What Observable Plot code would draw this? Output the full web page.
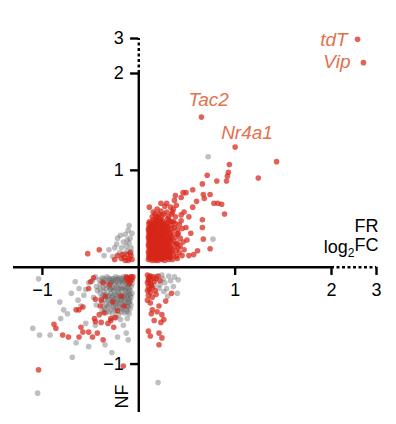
<!DOCTYPE html>
<html><head><meta charset="utf-8">
<script src="https://cdn.jsdelivr.net/npm/d3@7"></script>
<script src="https://cdn.jsdelivr.net/npm/@observablehq/plot@0.6"></script>
<style>body{margin:0;background:#fff}</style>
</head><body><div id="chart"></div>
<script>
// Broken axes: linear up to 2, compressed 2→3
const xDomain = [-1.3, 2, 3];
const yDomain = [-1.5, 2, 3];
const xTicks = [-1, 1, 2, 3];
const yTicks = [-1, 1, 2, 3];
const xTickLabels = ["\u22121", "1", "2", "3"];
const yTickLabels = ["\u22121", "1", "2", "3"];

// non-significant genes (grey) [FR log2FC, NF log2FC]
const greyPoints = [
  // upper-left
  [-0.10,0.43],[-0.11,0.38],[-0.19,0.33],[-0.22,0.30],[-0.16,0.26],[-0.36,0.12],[-0.31,0.18],[-0.13,0.22],
  [-0.09,0.30],[-0.25,0.20],[-0.20,0.15],[-0.12,0.17],[-0.27,0.11],[-0.08,0.20],[-0.14,0.34],[-0.23,0.24],
  [-0.10,0.25],[-0.07,0.35],[-0.12,0.28],[-0.18,0.20],[-0.08,0.16],[-0.15,0.14],
  // lower-left dense block
  [-0.08,-0.10],[-0.12,-0.11],[-0.16,-0.10],[-0.20,-0.11],[-0.24,-0.10],[-0.28,-0.12],[-0.33,-0.10],[-0.38,-0.11],[-0.45,-0.10],
  [-0.09,-0.13],[-0.11,-0.14],[-0.14,-0.13],[-0.18,-0.14],[-0.22,-0.13],[-0.26,-0.14],[-0.30,-0.13],[-0.35,-0.14],[-0.41,-0.13],[-0.48,-0.14],
  [-0.07,-0.17],[-0.10,-0.18],[-0.13,-0.17],[-0.17,-0.16],[-0.21,-0.18],[-0.25,-0.17],[-0.29,-0.16],[-0.34,-0.18],[-0.40,-0.17],[-0.52,-0.16],
  [-0.08,-0.20],[-0.12,-0.21],[-0.15,-0.20],[-0.19,-0.21],[-0.23,-0.20],[-0.27,-0.21],[-0.31,-0.20],[-0.37,-0.21],[-0.44,-0.20],
  [-0.09,-0.24],[-0.11,-0.25],[-0.14,-0.24],[-0.18,-0.23],[-0.22,-0.25],[-0.26,-0.24],[-0.30,-0.23],[-0.36,-0.25],[-0.43,-0.24],[-0.55,-0.23],
  [-0.07,-0.27],[-0.10,-0.28],[-0.13,-0.27],[-0.17,-0.28],[-0.21,-0.27],[-0.25,-0.28],[-0.29,-0.27],[-0.34,-0.28],[-0.40,-0.27],
  [-0.08,-0.31],[-0.12,-0.32],[-0.16,-0.31],[-0.20,-0.30],[-0.24,-0.32],[-0.28,-0.31],[-0.33,-0.30],[-0.39,-0.32],[-0.47,-0.31],
  [-0.09,-0.35],[-0.11,-0.36],[-0.15,-0.35],[-0.19,-0.34],[-0.23,-0.36],[-0.27,-0.35],[-0.32,-0.34],[-0.38,-0.36],
  [-0.08,-0.39],[-0.12,-0.40],[-0.17,-0.39],[-0.21,-0.38],[-0.26,-0.40],[-0.31,-0.39],[-0.36,-0.41],[-0.44,-0.39],
  [-0.09,-0.43],[-0.13,-0.44],[-0.18,-0.43],[-0.23,-0.42],[-0.29,-0.44],[-0.35,-0.43],
  [-0.10,-0.48],[-0.15,-0.47],[-0.21,-0.49],[-0.27,-0.48],[-0.34,-0.47],
  [-0.12,-0.53],[-0.19,-0.54],[-0.25,-0.52],
  [-0.10,-0.115],[-0.14,-0.115],[-0.18,-0.12],[-0.22,-0.115],[-0.26,-0.12],[-0.31,-0.115],[-0.36,-0.12],
  [-0.09,-0.155],[-0.12,-0.155],[-0.16,-0.15],[-0.20,-0.155],[-0.24,-0.15],[-0.28,-0.15],[-0.32,-0.155],[-0.38,-0.15],
  [-0.10,-0.22],[-0.14,-0.22],[-0.17,-0.22],[-0.21,-0.225],[-0.25,-0.22],[-0.29,-0.225],[-0.34,-0.22],[-0.40,-0.22],
  [-0.09,-0.29],[-0.12,-0.295],[-0.15,-0.29],[-0.19,-0.29],[-0.23,-0.29],[-0.27,-0.295],[-0.31,-0.29],[-0.37,-0.29],
  [-0.10,-0.33],[-0.14,-0.335],[-0.18,-0.33],[-0.22,-0.33],[-0.26,-0.335],[-0.30,-0.33],[-0.35,-0.33],
  [-0.10,-0.37],[-0.14,-0.38],[-0.19,-0.37],[-0.24,-0.38],[-0.29,-0.37],[-0.34,-0.38],
  [-0.11,-0.41],[-0.16,-0.42],[-0.20,-0.41],[-0.26,-0.42],[-0.32,-0.41],
  [-0.12,-0.46],[-0.18,-0.46],[-0.24,-0.45],[-0.31,-0.46],[-0.38,-0.45],
  // lower-left scattered
  [-1.04,-0.12],[-0.82,-0.36],[-0.78,-0.44],[-1.10,-0.63],[-1.03,-0.70],[-0.92,-0.70],[-0.69,-0.93],[-1.05,-1.30],
  [-0.63,-0.34],[-0.62,-0.22],[-0.57,-0.29],[-0.74,-0.48],[-0.81,-0.53],[-0.52,-0.82],[-0.35,-0.80],[-0.22,-0.72],
  [-0.13,-0.68],[-0.11,-0.75],[-0.66,-0.15],[-0.70,-0.27],[-0.60,-0.40],[-0.55,-0.58],[-0.45,-0.60],[-0.65,-0.78],
  [-0.28,-0.88],[-0.16,-0.60],
  // lower-right
  [0.41,-0.13],[0.40,-0.27],[0.29,-0.22],[0.20,-1.19],[0.33,-0.14],[0.25,-0.12],[0.36,-0.20],[0.22,-0.18],[0.30,-0.30],
  [0.18,-0.10],[0.24,-0.08],[0.27,-0.16],[0.21,-0.22],[0.31,-0.09],[0.37,-0.10],[0.26,-0.25],[0.16,-0.19],
  // upper-right
  [0.72,1.14],[0.77,0.29]
];

// significant genes (red)
const redPoints = [
  // upper-right dense blob
  [0.10,0.08],[0.11,0.12],[0.10,0.16],[0.11,0.19],[0.10,0.23],[0.11,0.27],[0.10,0.31],[0.11,0.35],[0.10,0.39],[0.12,0.43],[0.11,0.47],
  [0.14,0.07],[0.13,0.11],[0.15,0.14],[0.14,0.18],[0.13,0.21],[0.15,0.25],[0.14,0.29],[0.13,0.33],[0.15,0.36],[0.14,0.40],[0.13,0.44],[0.15,0.49],
  [0.17,0.09],[0.18,0.13],[0.17,0.16],[0.18,0.20],[0.16,0.24],[0.18,0.28],[0.17,0.31],[0.18,0.35],[0.17,0.39],[0.18,0.42],[0.17,0.46],[0.18,0.52],
  [0.20,0.07],[0.21,0.11],[0.22,0.15],[0.20,0.18],[0.21,0.22],[0.22,0.26],[0.20,0.30],[0.21,0.34],[0.22,0.37],[0.21,0.41],[0.20,0.45],[0.22,0.50],[0.21,0.55],
  [0.24,0.08],[0.25,0.12],[0.23,0.16],[0.24,0.20],[0.25,0.24],[0.24,0.28],[0.23,0.32],[0.25,0.36],[0.24,0.40],[0.26,0.44],[0.25,0.48],[0.24,0.53],
  [0.27,0.07],[0.28,0.10],[0.29,0.14],[0.27,0.18],[0.28,0.22],[0.29,0.26],[0.27,0.30],[0.28,0.34],[0.29,0.39],[0.28,0.45],[0.30,0.50],[0.29,0.57],
  [0.31,0.08],[0.32,0.12],[0.31,0.16],[0.33,0.20],[0.31,0.24],[0.32,0.29],[0.33,0.33],[0.31,0.38],[0.33,0.43],[0.32,0.48],[0.34,0.55],
  [0.35,0.08],[0.36,0.13],[0.35,0.18],[0.37,0.22],[0.36,0.27],[0.38,0.31],[0.35,0.36],[0.37,0.41],[0.36,0.47],[0.38,0.52],[0.36,0.60],
  [0.40,0.09],[0.42,0.15],[0.41,0.20],[0.43,0.30],[0.40,0.39],[0.42,0.44],[0.44,0.54],[0.39,0.64],[0.33,0.62],[0.27,0.63],[0.19,0.60],[0.15,0.57],
  [0.12,0.09],[0.12,0.14],[0.12,0.18],[0.12,0.25],[0.12,0.30],[0.12,0.37],[0.12,0.41],
  [0.155,0.10],[0.16,0.17],[0.155,0.22],[0.16,0.27],[0.16,0.32],[0.16,0.38],[0.16,0.43],
  [0.19,0.10],[0.19,0.15],[0.19,0.24],[0.19,0.27],[0.19,0.33],[0.19,0.38],[0.19,0.48],
  [0.225,0.09],[0.23,0.13],[0.225,0.20],[0.23,0.29],[0.23,0.35],[0.23,0.43],[0.23,0.47],
  [0.26,0.10],[0.26,0.15],[0.26,0.21],[0.26,0.26],[0.26,0.32],[0.26,0.38],[0.27,0.41],
  [0.30,0.11],[0.30,0.19],[0.30,0.23],[0.30,0.28],[0.30,0.36],[0.30,0.42],[0.30,0.46],
  [0.33,0.10],[0.34,0.16],[0.34,0.26],[0.34,0.31],[0.34,0.40],[0.34,0.47],
  [0.39,0.11],[0.39,0.17],[0.39,0.24],[0.40,0.34],[0.38,0.45],
  [0.14,0.52],[0.20,0.52],[0.26,0.55],[0.31,0.52],[0.17,0.55],[0.23,0.58],[0.35,0.57],[0.45,0.40],[0.46,0.26],[0.45,0.12],[0.43,0.22],
  [0.105,0.10],[0.105,0.14],[0.105,0.21],[0.105,0.25],[0.105,0.29],[0.105,0.33],[0.105,0.37],[0.105,0.41],[0.105,0.45],
  [0.14,0.09],[0.14,0.155],[0.14,0.23],[0.14,0.27],[0.14,0.31],[0.14,0.345],[0.14,0.38],[0.14,0.42],[0.14,0.46],
  [0.175,0.07],[0.175,0.11],[0.175,0.18],[0.175,0.22],[0.175,0.26],[0.175,0.33],[0.175,0.37],[0.175,0.41],[0.175,0.44],[0.175,0.49],
  [0.21,0.09],[0.21,0.13],[0.21,0.20],[0.21,0.24],[0.21,0.28],[0.21,0.32],[0.21,0.39],[0.21,0.43],[0.21,0.48],
  [0.245,0.10],[0.245,0.14],[0.245,0.18],[0.245,0.22],[0.245,0.26],[0.245,0.30],[0.245,0.34],[0.245,0.38],[0.245,0.42],[0.245,0.46],
  [0.285,0.12],[0.285,0.16],[0.285,0.20],[0.285,0.24],[0.285,0.28],[0.285,0.32],[0.285,0.37],[0.285,0.42],
  [0.32,0.10],[0.32,0.14],[0.32,0.18],[0.32,0.22],[0.32,0.27],[0.32,0.31],[0.32,0.35],
  // upper-right scattered
  [0.94,1.06],[1.43,1.09],[0.71,0.95],[0.93,0.98],[0.92,0.94],[0.81,0.89],[0.91,0.89],[1.24,0.92],[0.66,0.86],[0.56,0.80],
  [0.46,0.77],[0.38,0.74],[0.67,0.75],[0.74,0.75],[0.68,0.71],[0.60,0.68],[0.78,0.66],[0.82,0.66],[0.86,0.65],[0.89,0.55],
  [0.66,0.49],[0.66,0.41],[0.67,0.29],[0.74,0.19],[0.61,0.17],[0.57,0.13],[0.11,0.62],[0.23,0.66],[0.29,0.66],[0.37,0.69],
  [0.44,0.72],[0.49,0.77],[0.56,0.62],[0.47,0.57],[0.52,0.52],[0.49,0.41],[0.54,0.35],[0.50,0.28],[0.47,0.18],[0.52,0.12],
  [0.40,0.25],[0.41,0.35],[0.44,0.48],
  // highlighted genes
  [2.58,2.98],[2.71,2.31],[0.65,1.55],[1.00,1.24],
  // upper-left
  [-0.53,0.14],[-0.41,0.18],[-0.15,0.10],[-0.10,0.09],[-0.12,0.13],[-0.08,0.12],[-0.18,0.09],[-0.22,0.12],[-0.11,0.07],
  [-0.07,0.08],[-0.14,0.07],[-0.09,0.15],[-0.17,0.13],[-0.25,0.08],
  // lower-left
  [-0.08,-0.10],[-0.11,-0.11],[-0.09,-0.14],[-0.13,-0.10],[-0.07,-0.13],[-0.10,-0.17],[-0.06,-0.10],[-0.12,-0.13],
  [-0.88,-0.59],[-0.86,-0.63],[-0.79,-0.70],[-0.73,-0.72],[-1.04,-1.06],[-0.16,-1.02],[-0.60,-0.62],[-0.58,-0.67],
  [-0.62,-0.72],[-0.52,-0.67],[-0.48,-0.72],[-0.43,-0.68],[-0.37,-0.75],[-0.39,-0.57],[-0.32,-0.58],[-0.26,-0.62],
  [-0.29,-0.55],[-0.52,-0.22],[-0.50,-0.15],[-0.65,-0.44],[-0.58,-0.41],[-0.41,-0.49],[-0.46,-0.53],[-0.35,-0.30],
  [-0.27,-0.36],[-0.22,-0.45],[-0.40,-0.40],[-0.18,-0.30],[-0.30,-0.18],[-0.45,-0.33],[-0.24,-0.52],[-0.15,-0.40],
  [-0.47,-0.11],[-0.37,-0.16],[-0.62,-0.44],[-0.39,-0.34],[-0.36,-0.47],[-0.29,-0.53],[-0.45,-0.56],
  // lower-right
  [0.09,-0.08],[0.12,-0.09],[0.15,-0.10],[0.10,-0.12],[0.13,-0.13],[0.09,-0.16],[0.12,-0.17],[0.16,-0.15],[0.10,-0.20],
  [0.14,-0.21],[0.09,-0.24],[0.12,-0.26],[0.17,-0.24],[0.10,-0.29],[0.14,-0.31],[0.09,-0.34],[0.12,-0.37],[0.18,-0.12],
  [0.20,-0.09],[0.22,-0.14],[0.11,-0.10],[0.10,-0.14],[0.13,-0.19],[0.11,-0.23],
  [0.34,-0.27],[0.28,-0.35],[0.21,-0.40],[0.14,-0.44],[0.24,-0.49],[0.26,-0.54],[0.16,-0.55],[0.23,-0.57],[0.10,-0.66],
  [0.12,-0.71],[0.21,-0.68],[0.24,-0.73],[0.21,-0.80],[0.18,-0.28],[0.13,-0.48],[0.19,-0.46]
];

const geneNames = ["tdT", "Vip", "Tac2", "Nr4a1"];
const geneX = [2.58, 2.71, 0.65, 1.00];
const geneY = [2.98, 2.31, 1.55, 1.24];
const genes = geneNames.map((name, i) => ({name, x: geneX[i], y: geneY[i]}));

const font = "'Liberation Sans', Arial, Helvetica, sans-serif";
const labelColor = "#e2714c";
const geneLabel = (name, opts) => Plot.text(genes.filter(g => g.name === name), {
  x: "x", y: "y", text: "name", fill: labelColor, fontSize: 19, fontStyle: "italic", lineAnchor: "middle", ...opts
});

const chart = Plot.plot({
  width: 396,
  height: 424,
  margin: 0,
  style: {background: "#fff", fontFamily: font, overflow: "visible"},
  x: {type: "linear", domain: xDomain, range: [13, 331, 376], axis: null},
  y: {type: "linear", domain: yDomain, range: [412, 73, 38], axis: null},
  marks: [
    Plot.dot(greyPoints, {x: d => d[0], y: d => d[1], r: 2.8, fill: "#666666", fillOpacity: 0.42}),
    Plot.dot(redPoints, {x: d => d[0], y: d => d[1], r: 2.8, fill: "#d72519", fillOpacity: 0.72}),
    // axis lines
    Plot.ruleY([0], {x1: xDomain[0], x2: 2, stroke: "#000", strokeWidth: 2.4}),
    Plot.ruleY([0], {x1: 2, x2: 3, stroke: "#000", strokeWidth: 2.4, strokeDasharray: "3,2.5"}),
    Plot.ruleX([0], {y1: yDomain[0], y2: 2, stroke: "#000", strokeWidth: 2.4}),
    Plot.ruleX([0], {y1: 2, y2: 3, stroke: "#000", strokeWidth: 2.4, strokeDasharray: "3,2.5"}),
    // ticks
    Plot.ruleX(xTicks, {x: d => d, y1: 0, y2: -0.085, stroke: "#000", strokeWidth: 2.4}),
    Plot.ruleY(yTicks, {y: d => d, x1: 0, x2: -0.085, stroke: "#000", strokeWidth: 2.4}),
    Plot.text(xTicks, {x: d => d, y: 0, dy: 23, text: (d, i) => xTickLabels[i], fontSize: 18, fill: "#000", lineAnchor: "middle"}),
    Plot.text(yTicks, {x: 0, y: d => d, dx: -15, text: (d, i) => yTickLabels[i], fontSize: 18, fill: "#000", textAnchor: "end", lineAnchor: "middle"}),
    // axis titles
    Plot.text(["FR"], {x: 3, y: 0, dx: 2, dy: -41, text: d => d, fontSize: 18, fill: "#000", textAnchor: "end", lineAnchor: "middle"}),
    Plot.text(["log2FC"], {x: 3, y: 0, dx: 2, dy: -20, text: d => d, fontSize: 18, fill: "#000", textAnchor: "end", lineAnchor: "middle"}),
    Plot.text(["NF"], {x: 0, y: yDomain[0], dx: -17, dy: -16, text: d => d, rotate: -90, fontSize: 18, fill: "#000", textAnchor: "middle", lineAnchor: "middle"}),
    // gene labels
    geneLabel("tdT", {dx: -10, dy: 1, textAnchor: "end"}),
    geneLabel("Vip", {dx: -13, dy: -1, textAnchor: "end"}),
    geneLabel("Tac2", {dx: -13, dy: -17, textAnchor: "start"}),
    geneLabel("Nr4a1", {dx: -14, dy: -14, textAnchor: "start"})
  ]
});

// subscript for log2FC
d3.select(chart).selectAll("text").filter(function() { return this.textContent === "log2FC"; }).each(function() {
  const t = d3.select(this);
  t.text("");
  t.append("tspan").text("log");
  t.append("tspan").attr("font-size", 12).attr("dy", "0.3em").text("2");
  t.append("tspan").attr("dy", "-0.3em").text("FC");
});

document.getElementById("chart").appendChild(chart);
</script>
</body></html>
